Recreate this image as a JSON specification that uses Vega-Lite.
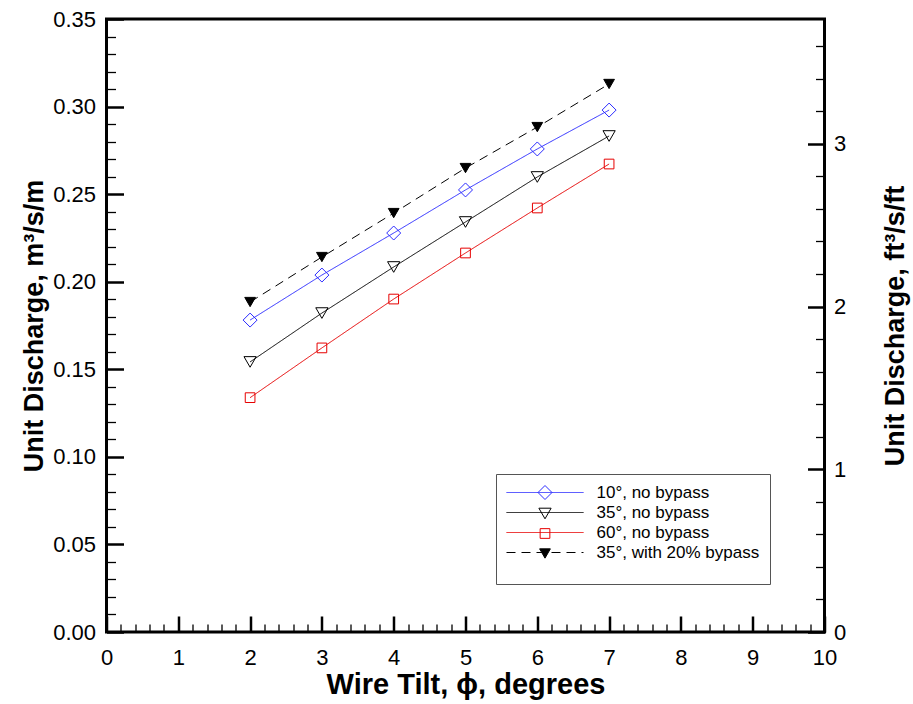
{
  "$schema": "https://vega.github.io/schema/vega-lite/v6.json",
  "width": 718,
  "height": 613,
  "autosize": {"type": "none"},
  "padding": {"left": 106.5, "top": 19, "right": 88.5, "bottom": 72},
  "background": "white",
  "config": {
    "view": {"stroke": "black", "strokeWidth": 3},
    "font": "Liberation Sans",
    "axis": {
      "grid": false, "domain": false,
      "labelFont": "Liberation Sans", "titleFont": "Liberation Sans",
      "labelColor": "black", "titleColor": "black", "tickColor": "black",
      "labelFlush": false, "labelOverlap": false, "labelBound": false
    },
    "legend": {"labelLimit": 400}
  },
  "data": {
    "values": [
      {"series": "10°, no bypass", "x": 2, "q": 0.1781},
      {"series": "10°, no bypass", "x": 3, "q": 0.2038},
      {"series": "10°, no bypass", "x": 4, "q": 0.2278},
      {"series": "10°, no bypass", "x": 5, "q": 0.2524},
      {"series": "10°, no bypass", "x": 6, "q": 0.2758},
      {"series": "10°, no bypass", "x": 7, "q": 0.2980},
      {"series": "35°, no bypass", "x": 2, "q": 0.1542},
      {"series": "35°, no bypass", "x": 3, "q": 0.1821},
      {"series": "35°, no bypass", "x": 4, "q": 0.2084},
      {"series": "35°, no bypass", "x": 5, "q": 0.2341},
      {"series": "35°, no bypass", "x": 6, "q": 0.2598},
      {"series": "35°, no bypass", "x": 7, "q": 0.2832},
      {"series": "60°, no bypass", "x": 2, "q": 0.1338},
      {"series": "60°, no bypass", "x": 3, "q": 0.1622},
      {"series": "60°, no bypass", "x": 4, "q": 0.1901},
      {"series": "60°, no bypass", "x": 5, "q": 0.2164},
      {"series": "60°, no bypass", "x": 6, "q": 0.2421},
      {"series": "60°, no bypass", "x": 7, "q": 0.2672},
      {"series": "35°, with 20% bypass", "x": 2, "q": 0.1884},
      {"series": "35°, with 20% bypass", "x": 3, "q": 0.2141},
      {"series": "35°, with 20% bypass", "x": 4, "q": 0.2392},
      {"series": "35°, with 20% bypass", "x": 5, "q": 0.2649},
      {"series": "35°, with 20% bypass", "x": 6, "q": 0.2883},
      {"series": "35°, with 20% bypass", "x": 7, "q": 0.3129}
    ]
  },
  "resolve": {
    "axis": {"x": "independent", "y": "independent"},
    "legend": {"color": "independent", "strokeDash": "independent", "stroke": "independent", "fill": "independent", "shape": "independent", "size": "independent"}
  },
  "layer": [
    {
      "mark": {"type": "line", "strokeWidth": 1},
      "encoding": {
        "x": {"field": "x", "type": "quantitative", "scale": {"domain": [0, 10], "nice": false, "zero": false},
          "axis": {"orient": "bottom", "values": [0,1,2,3,4,5,6,7,8,9,10], "format": "d", "ticks": false, "labelFontSize": 22, "labelPadding": 15,
            "title": "Wire Tilt, ϕ, degrees", "titleFontSize": 29, "titleFontWeight": "bold", "titlePadding": 2}},
        "y": {"field": "q", "type": "quantitative", "scale": {"domain": [0, 0.35], "nice": false, "zero": true},
          "axis": {"orient": "left", "values": [0,0.05,0.1,0.15,0.2,0.25,0.3,0.35], "format": ".2f", "ticks": false, "labelFontSize": 22, "labelPadding": 11,
            "title": "Unit Discharge, m³/s/m", "titleFontSize": 27, "titleFontWeight": "bold", "titlePadding": 4}},
        "color": {"field": "series", "type": "nominal",
          "scale": {"domain": ["10°, no bypass", "35°, no bypass", "60°, no bypass", "35°, with 20% bypass"], "range": ["#2b2bff", "black", "#e60000", "black"]},
          "legend": {"orient": "none", "legendX": 389.5, "legendY": 455, "direction": "vertical", "title": " ", "titleOrient": "bottom", "titleFontSize": 12, "titlePadding": 2,
            "padding": 10, "strokeColor": "#555555", "symbolType": "M-5.5,0H5.5", "symbolSize": 196, "symbolStrokeWidth": 1, "symbolOffset": 30.5,
            "labelOffset": 43, "labelLimit": 400, "labelFont": "Liberation Sans", "labelFontSize": 17, "labelColor": "black", "rowPadding": 2}},
        "strokeDash": {"field": "series", "type": "nominal",
          "scale": {"domain": ["10°, no bypass", "35°, no bypass", "60°, no bypass", "35°, with 20% bypass"], "range": [[1, 0], [1, 0], [1, 0], [9, 6]]},
          "legend": {"orient": "none", "legendX": 389.5, "legendY": 455, "direction": "vertical", "title": " ", "titleOrient": "bottom", "titleFontSize": 12, "titlePadding": 2,
            "padding": 10, "strokeColor": "#555555", "symbolType": "M-5.5,0H5.5", "symbolSize": 196, "symbolStrokeWidth": 1, "symbolOffset": 30.5,
            "labelOffset": 43, "labelLimit": 400, "labelFont": "Liberation Sans", "labelFontSize": 17, "labelColor": "black", "rowPadding": 2}},
        "strokeWidth": {"field": "series", "type": "nominal",
          "scale": {"type": "ordinal", "domain": ["10°, no bypass", "35°, no bypass", "60°, no bypass", "35°, with 20% bypass"], "range": [1, 1, 1, 1.7]},
          "legend": null}
      }
    },
    {
      "mark": {"type": "point", "opacity": 1, "strokeWidth": 1},
      "encoding": {
        "x": {"field": "x", "type": "quantitative", "scale": {"domain": [0, 10], "nice": false, "zero": false},
          "axis": {"orient": "bottom", "values": [0,1,2,3,4,5,6,7,8,9,10], "labels": false, "offset": -16, "tickSize": 16, "tickWidth": 2.5, "title": null}},
        "y": {"field": "q", "type": "quantitative", "scale": {"domain": [0, 0.35], "nice": false, "zero": true},
          "axis": {"orient": "left", "values": [0,0.05,0.1,0.15,0.2,0.25,0.3,0.35], "labels": false, "offset": -17, "tickSize": 17, "tickWidth": 2.5, "title": null}},
        "shape": {"field": "series", "type": "nominal",
          "scale": {"domain": ["10°, no bypass", "35°, no bypass", "60°, no bypass", "35°, with 20% bypass"], "range": ["diamond", "triangle-down", "square", "triangle-down"]},
          "legend": {"orient": "none", "legendX": 389.5, "legendY": 455, "direction": "vertical", "title": " ", "titleOrient": "bottom", "titleFontSize": 12, "titlePadding": 2,
            "padding": 10, "symbolStrokeWidth": 1, "symbolOffset": 30.5, "labelOffset": 43, "labelLimit": 400, "labelFont": "Liberation Sans", "labelFontSize": 17, "labelOpacity": 0, "rowPadding": 2}},
        "stroke": {"field": "series", "type": "nominal",
          "scale": {"domain": ["10°, no bypass", "35°, no bypass", "60°, no bypass", "35°, with 20% bypass"], "range": ["#2b2bff", "black", "#e60000", "black"]},
          "legend": {"orient": "none", "legendX": 389.5, "legendY": 455, "direction": "vertical", "title": " ", "titleOrient": "bottom", "titleFontSize": 12, "titlePadding": 2,
            "padding": 10, "symbolStrokeWidth": 1, "symbolOffset": 30.5, "labelOffset": 43, "labelLimit": 400, "labelFont": "Liberation Sans", "labelFontSize": 17, "labelOpacity": 0, "rowPadding": 2}},
        "fill": {"field": "series", "type": "nominal",
          "scale": {"domain": ["10°, no bypass", "35°, no bypass", "60°, no bypass", "35°, with 20% bypass"], "range": ["transparent", "transparent", "transparent", "black"]},
          "legend": {"orient": "none", "legendX": 389.5, "legendY": 455, "direction": "vertical", "title": " ", "titleOrient": "bottom", "titleFontSize": 12, "titlePadding": 2,
            "padding": 10, "symbolStrokeWidth": 1, "symbolOffset": 30.5, "labelOffset": 43, "labelLimit": 400, "labelFont": "Liberation Sans", "labelFontSize": 17, "labelOpacity": 0, "rowPadding": 2}},
        "size": {"field": "series", "type": "nominal",
          "scale": {"type": "ordinal", "domain": ["10°, no bypass", "35°, no bypass", "60°, no bypass", "35°, with 20% bypass"], "range": [196, 150, 94, 115]},
          "legend": {"orient": "none", "legendX": 389.5, "legendY": 455, "direction": "vertical", "title": " ", "titleOrient": "bottom", "titleFontSize": 12, "titlePadding": 2,
            "padding": 10, "symbolStrokeWidth": 1, "symbolOffset": 30.5, "labelOffset": 43, "labelLimit": 400, "labelFont": "Liberation Sans", "labelFontSize": 17, "labelOpacity": 0, "rowPadding": 2}}
      }
    },
    {
      "mark": {"type": "point", "opacity": 0},
      "encoding": {
        "x": {"field": "x", "type": "quantitative", "scale": {"domain": [0, 10], "nice": false, "zero": false},
          "axis": {"orient": "bottom", "values": [0.2,0.4,0.6,0.8,1.2,1.4,1.6,1.8,2.2,2.4,2.6,2.8,3.2,3.4,3.6,3.8,4.2,4.4,4.6,4.8,5.2,5.4,5.6,5.8,6.2,6.4,6.6,6.8,7.2,7.4,7.6,7.8,8.2,8.4,8.6,8.8,9.2,9.4,9.6,9.8],
            "labels": false, "offset": -8, "tickSize": 8, "tickWidth": 1.3, "title": null}},
        "y": {"field": "q", "type": "quantitative", "scale": {"domain": [0, 0.35], "nice": false, "zero": true},
          "axis": {"orient": "left", "values": [0.01,0.02,0.03,0.04,0.06,0.07,0.08,0.09,0.11,0.12,0.13,0.14,0.16,0.17,0.18,0.19,0.21,0.22,0.23,0.24,0.26,0.27,0.28,0.29,0.31,0.32,0.33,0.34],
            "labels": false, "offset": -9, "tickSize": 9, "tickWidth": 1.3, "title": null}}
      }
    },
    {
      "mark": {"type": "point", "opacity": 0},
      "encoding": {
        "x": {"field": "x", "type": "quantitative", "scale": {"domain": [0, 10], "nice": false, "zero": false}, "axis": null},
        "y": {"field": "q", "type": "quantitative", "scale": {"domain": [0, 0.35], "nice": false, "zero": true},
          "axis": {"orient": "right", "values": [0, 0.0929032, 0.1858064, 0.2787097], "labelExpr": "format(round(datum.value * 10.7639), 'd')",
            "ticks": false, "labelFontSize": 22, "labelPadding": 9,
            "title": "Unit Discharge, ft³/s/ft", "titleFontSize": 27, "titleFontWeight": "bold", "titleAngle": 270, "titleBaseline": "top", "titlePadding": 37}}
      }
    },
    {
      "mark": {"type": "point", "opacity": 0},
      "encoding": {
        "x": {"field": "x", "type": "quantitative", "scale": {"domain": [0, 10], "nice": false, "zero": false}, "axis": null},
        "y": {"field": "q", "type": "quantitative", "scale": {"domain": [0, 0.35], "nice": false, "zero": true},
          "axis": {"orient": "right", "values": [0, 0.0929032, 0.1858064, 0.2787097], "labels": false, "offset": -17, "tickSize": 17, "tickWidth": 2.5, "title": null}}
      }
    },
    {
      "mark": {"type": "point", "opacity": 0},
      "encoding": {
        "x": {"field": "x", "type": "quantitative", "scale": {"domain": [0, 10], "nice": false, "zero": false}, "axis": null},
        "y": {"field": "q", "type": "quantitative", "scale": {"domain": [0, 0.35], "nice": false, "zero": true},
          "axis": {"orient": "right", "values": [0.0185806,0.0371613,0.0557419,0.0743226,0.1114839,0.1300645,0.1486452,0.1672258,0.2043871,0.2229677,0.2415484,0.2601290,0.2972903,0.3158710,0.3344516],
            "labels": false, "offset": -9, "tickSize": 9, "tickWidth": 1.3, "title": null}}
      }
    }
  ]
}
